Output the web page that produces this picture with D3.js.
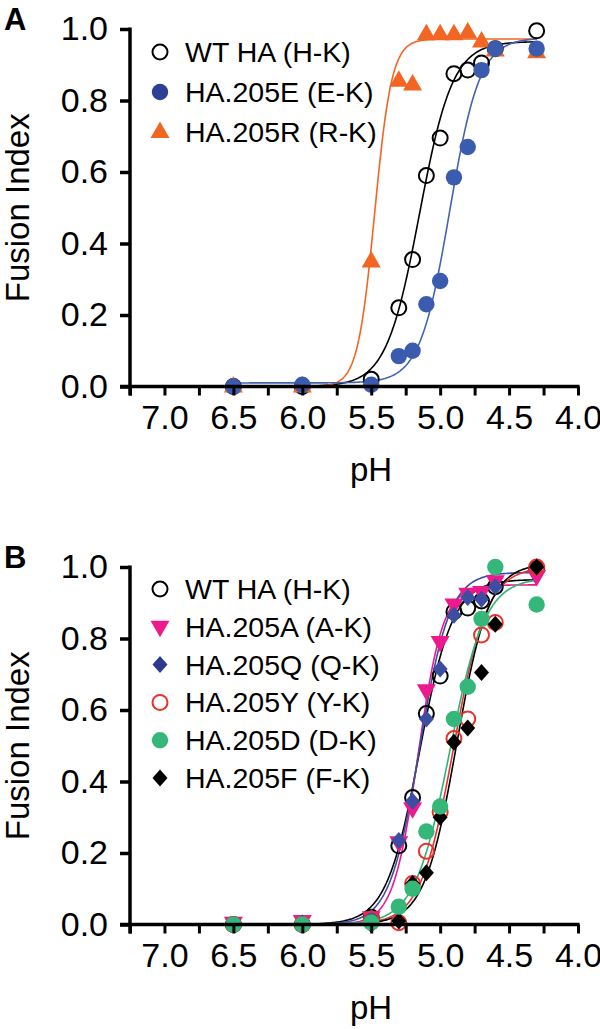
<!DOCTYPE html>
<html><head><meta charset="utf-8">
<script src="https://cdn.jsdelivr.net/npm/d3@7"></script>
<style>
body{margin:0;background:#fff}
svg{display:block}
text{font-family:"Liberation Sans",Arial,Helvetica,sans-serif;fill:#000}
</style>
</head><body>
<svg id="chart" width="600" height="1029"></svg>
<script>
// ---------- data ----------
const pHValues = [6.5, 6.0, 5.5, 5.3, 5.2, 5.1, 5.0, 4.9, 4.8, 4.7, 4.6, 4.3];

// Panel A
const wtA   = [0.0, 0.0, 0.02, 0.22, 0.355, 0.59, 0.695, 0.875, 0.885, 0.905, 0.945, 0.995];
const e205  = [0.0, 0.005, 0.005, 0.085, 0.10, 0.23, 0.295, 0.585, 0.67, 0.885, 0.945, 0.945];
const r205  = [0.0, 0.0, 0.35, 0.855, 0.845, 0.985, 0.985, 0.985, 0.99, 0.965, 0.94, 0.935];

// Panel B
const wtB   = [0.0, 0.0, 0.02, 0.22, 0.355, 0.59, 0.695, 0.875, 0.885, 0.905, 0.945, 0.995];
const a205  = [0.005, 0.01, 0.02, 0.23, 0.325, 0.655, 0.79, 0.895, 0.925, 0.93, 0.96, 0.975];
const q205  = [0.0, 0.005, 0.02, 0.235, 0.345, 0.575, 0.715, 0.865, 0.915, 0.91, 0.945, 1.0];
const y205  = [0.0, 0.0, 0.015, 0.005, 0.115, 0.205, 0.315, 0.52, 0.575, 0.81, 0.845, 1.0];
const d205  = [0.0, 0.0, 0.005, 0.05, 0.10, 0.26, 0.33, 0.575, 0.665, 0.855, 1.0, 0.895];
const f205  = [0.0, 0.0, 0.0, 0.01, 0.115, 0.145, 0.30, 0.51, 0.55, 0.705, 0.84, 1.0];

// fitted sigmoid parameters: [bottom, top, pH50, Hill slope]
const fitWT   = [0.0, 0.965, 5.15, 3.6];
const fitE    = [0.01, 0.975, 4.93, 4.0];
const fitR    = [0.0, 0.972, 5.475, 7.0];
const fitA    = [0.0, 0.95, 5.16, 4.8];
const fitQ    = [0.0, 0.985, 5.15, 4.0];
const fitY    = [0.0, 1.0, 4.90, 3.6];
const fitD    = [0.0, 0.97, 4.93, 3.4];
const fitF    = [0.0, 1.01, 4.88, 3.7];
const fitRange = [6.5, 4.3];

const namesA = ["WT HA (H-K)", "HA.205E (E-K)", "HA.205R (R-K)"];
const namesB = ["WT HA (H-K)", "HA.205A (A-K)", "HA.205Q (Q-K)", "HA.205Y (Y-K)", "HA.205D (D-K)", "HA.205F (F-K)"];

const xDomain = [7.25, 4.0];
const xLabelTicks = [7.0, 6.5, 6.0, 5.5, 5.0, 4.5, 4.0];
const xAllTicks = [7.25, 7.0, 6.75, 6.5, 6.25, 6.0, 5.75, 5.5, 5.25, 5.0, 4.75, 4.5, 4.25, 4.0];
const yTicks = [0.0, 0.2, 0.4, 0.6, 0.8, 1.0];

// ---------- styling ----------
const svg = d3.select("#chart");
const FONT = 34;

const panels = [
  { label: "A", top: 29, bottom: 386.5, legendY0: 52, legendStep: 40,
    series: [
      { name: namesA[0], vals: wtA,  fit: fitWT, shape: "openCircle", color: "#000000", line: "#000000", legendColor: "#000000" },
      { name: namesA[2], vals: r205, fit: fitR,  shape: "triUp",      color: "#F26522", line: "#F26522", legendColor: "#F26522" },
      { name: namesA[1], vals: e205, fit: fitE,  shape: "circle",     color: "#3B5BAE", line: "#4464B2", legendColor: "#2E3F94" }
    ],
    legendOrder: [0, 2, 1]
  },
  { label: "B", top: 567, bottom: 924.5, legendY0: 589, legendStep: 37.8,
    series: [
      { name: namesB[0], vals: wtB,  fit: fitWT, shape: "openCircle", color: "#000000", line: "#000000", legendColor: "#000000" },
      { name: namesB[1], vals: a205, fit: fitA,  shape: "triDown",    color: "#EC1A8C", line: "#EC1A8C", legendColor: "#EC1A8C" },
      { name: namesB[2], vals: q205, fit: fitQ,  shape: "diamond",    color: "#3C4EA2", line: "#3C4EA2", legendColor: "#2E3A8F" },
      { name: namesB[3], vals: y205, fit: fitY,  shape: "openCircleRed", color: "#E8322B", line: "#E8322B", legendColor: "#E8322B" },
      { name: namesB[5], vals: f205, fit: fitF,  shape: "diamond",    color: "#000000", line: "#000000", legendColor: "#000000" },
      { name: namesB[4], vals: d205, fit: fitD,  shape: "circle",     color: "#35B77A", line: "#2DB37A", legendColor: "#35B77A" }
    ],
    legendOrder: [0, 1, 2, 3, 5, 4]
  }
];

const shapePaths = {
  triUp: "M0,-10.5L9.5,6L-9.5,6Z",
  triDown: "M0,10.5L9.5,-6L-9.5,-6Z",
  diamond: "M0,-8.5L7.5,0L0,8.5L-7.5,0Z"
};

function drawMarker(g, shape, color, cx, cy) {
  if (shape === "openCircle" || shape === "openCircleRed") {
    g.append("circle").attr("cx", cx).attr("cy", cy).attr("r", 7.5)
      .attr("fill", "none").attr("stroke", color).attr("stroke-width", 2);
  } else if (shape === "circle") {
    g.append("circle").attr("cx", cx).attr("cy", cy).attr("r", 8.2).attr("fill", color);
  } else {
    g.append("path").attr("d", shapePaths[shape])
      .attr("transform", `translate(${cx},${cy})`).attr("fill", color);
  }
}

function sigmoid(p, ph) {
  const [b, t, m, n] = p;
  return b + (t - b) / (1 + Math.pow(10, (ph - m) * n));
}

const x = d3.scaleLinear().domain(xDomain).range([130, 578]);

panels.forEach(P => {
  const y = d3.scaleLinear().domain([0, 1]).range([P.bottom, P.top]);
  const g = svg.append("g");

  // panel label
  g.append("text").attr("x", 4).attr("y", P.top + 1)
    .style("font-weight", "bold").style("font-size", "31px").text(P.label);

  // curves
  const curvePts = d3.range(fitRange[0], fitRange[1] - 0.0001, -0.01);
  const line = d3.line().x(d => x(d[0])).y(d => y(d[1]));
  P.series.forEach(s => {
    g.append("path")
      .datum(curvePts.map(ph => [ph, sigmoid(s.fit, ph)]))
      .attr("d", line).attr("fill", "none")
      .attr("stroke", s.line).attr("stroke-width", 1.6);
  });

  // markers
  P.series.forEach(s => {
    const mg = g.append("g");
    pHValues.forEach((ph, i) => drawMarker(mg, s.shape, s.color, x(ph), y(s.vals[i])));
  });

  // axes
  const yAxis = d3.axisLeft(y).tickValues(yTicks).tickFormat(d3.format(".1f")).tickSize(10).tickPadding(12);
  const ya = g.append("g").attr("transform", "translate(130,0)").call(yAxis);
  ya.select(".domain").attr("d", `M0,${P.top - 1.5}V${P.bottom + 9}`).attr("stroke-width", 3.5);
  ya.selectAll(".tick line").attr("stroke-width", 3.5);
  ya.selectAll(".tick text").style("font-size", FONT + "px").attr("font-family", null);

  const xAxis = d3.axisBottom(x).tickValues(xAllTicks).tickSize(9).tickPadding(9)
    .tickFormat(d => xLabelTicks.some(v => Math.abs(v - d) < 1e-9) ? d3.format(".1f")(d) : "");
  const xa = g.append("g").attr("transform", `translate(0,${P.bottom})`).call(xAxis);
  xa.select(".domain").attr("d", `M120,0H${x(4.0) + 1.5}`).attr("stroke-width", 3.5);
  xa.selectAll(".tick line").attr("stroke-width", 3);
  xa.selectAll(".tick text").style("font-size", FONT + "px").attr("font-family", null);
  svg.selectAll(".domain, .tick line").attr("stroke", "#000");

  // axis titles
  g.append("text").attr("x", 371).attr("y", P.bottom + 94)
    .attr("text-anchor", "middle").style("font-size", "33px").text("pH");
  g.append("text").attr("transform", `translate(29,${(P.top + P.bottom) / 2}) rotate(-90)`)
    .attr("text-anchor", "middle").style("font-size", "33px").text("Fusion Index");

  // legend
  P.legendOrder.forEach((si, k) => {
    const s = P.series[si];
    const ly = P.legendY0 + k * P.legendStep;
    drawMarker(g, s.shape, s.legendColor, 160, ly);
    g.append("text").attr("x", 185).attr("y", ly).attr("dy", "0.35em")
      .style("font-size", "28.5px").text(s.name);
  });
});
</script>
</body></html>
